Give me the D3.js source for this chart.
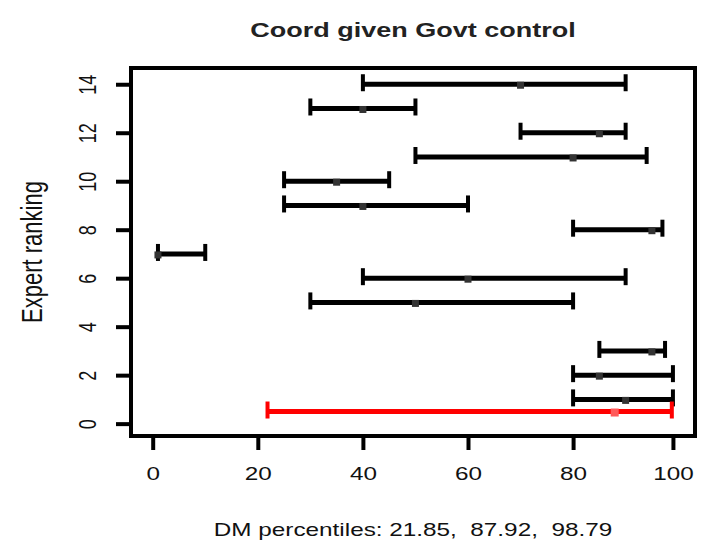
<!DOCTYPE html>
<html>
<head>
<meta charset="utf-8">
<script src="https://cdn.jsdelivr.net/npm/d3@7"></script>
<style>
  body { margin: 0; background: #fff; }
  svg { display: block; }
  text { font-family: "Liberation Sans", Arial, sans-serif; fill: #111; }
</style>
</head>
<body>
<script>
// Expert ranks with their low / median / high percentile estimates
const ranks   = [1, 2, 3, 5, 6, 7, 8, 9, 10, 11, 12, 13, 14]
const lows    = [80, 80, 85, 30, 40, 1, 80, 25, 25, 50, 70, 30, 40]
const medians = [90, 85, 95, 50, 60, 1, 95, 40, 35, 80, 85, 40, 70]
const highs   = [99, 99, 97.5, 80, 90, 10, 97, 60, 45, 94, 90, 50, 90]

// Decision maker (DM) row, drawn in red
const dmRank = 0.5
const dmValues = [21.85, 87.92, 98.79]

// Axis ticks
const xTicks = [0, 20, 40, 60, 80, 99]
const xTickLabels = ["0", "20", "40", "60", "80", "100"]
const yTicks = [0, 2, 4, 6, 8, 10, 12, 14]

const title = "Coord given Govt control"
const yTitle = "Expert ranking"

function main() {
    const width = 707, height = 548
    const sx = 1.35   // the picture is stretched sideways

    var svg = d3.select("body").append("svg")
        .attr("width", width)
        .attr("height", height)

    // Scales
    var x = d3.scaleLinear().domain([-4.13, 103.2]).range([131, 695])
    var y = d3.scaleLinear().domain([-0.51, 14.67]).range([436, 68])

    var rows = ranks.map(function (r, i) {
        return { rank: r, lo: lows[i], med: medians[i], hi: highs[i] }
    })

    // Interval bars
    var bar = svg.selectAll("g.row")
        .data(rows)
        .enter().append("g")
        .attr("class", "row")

    function drawBar(g, color, ptSize, ptColor) {
        g.append("line")
            .attr("x1", d => x(d.lo)).attr("x2", d => x(d.hi))
            .attr("y1", d => y(d.rank)).attr("y2", d => y(d.rank))
            .attr("stroke", color).attr("stroke-width", 5)
        g.selectAll("line.cap")
            .data(d => [{ v: d.lo, rank: d.rank }, { v: d.hi, rank: d.rank }])
            .enter().append("line")
            .attr("class", "cap")
            .attr("x1", d => x(d.v)).attr("x2", d => x(d.v))
            .attr("y1", d => y(d.rank) - 10).attr("y2", d => y(d.rank) + 7)
            .attr("stroke", color).attr("stroke-width", 4)
        g.append("rect")
            .attr("x", d => x(d.med) - ptSize / 2)
            .attr("y", d => y(d.rank) - ptSize / 2 + 1)
            .attr("width", ptSize).attr("height", ptSize)
            .attr("fill", ptColor)
    }
    drawBar(bar, "#000", 7, "#333")

    var dm = svg.append("g")
        .datum({ rank: dmRank, lo: dmValues[0], med: dmValues[1], hi: dmValues[2] })
    drawBar(dm, "#ff0000", 8, "#ff5a5a")

    // Box
    svg.append("rect")
        .attr("x", 131).attr("y", 68)
        .attr("width", 564).attr("height", 368)
        .attr("fill", "none").attr("stroke", "#000").attr("stroke-width", 4)

    // X axis
    var xAxis = d3.axisBottom(x)
        .tickValues(xTicks)
        .tickFormat((d, i) => xTickLabels[i])
        .tickSize(14).tickSizeOuter(0)
    var gx = svg.append("g")
        .attr("transform", "translate(0,436)")
        .call(xAxis)
    gx.select(".domain").remove()
    gx.selectAll(".tick line").attr("stroke", "#000").attr("stroke-width", 4)
    gx.selectAll(".tick text")
        .attr("y", 0).attr("dy", null)
        .attr("transform", `translate(0,44) scale(${sx},1)`)
        .attr("font-size", 18)
        .attr("fill", "#111")

    // Y axis
    var yAxis = d3.axisLeft(y)
        .tickValues(yTicks)
        .tickSize(15).tickSizeOuter(0)
    var gy = svg.append("g")
        .attr("transform", "translate(131,0)")
        .call(yAxis)
    gy.select(".domain").remove()
    gy.selectAll(".tick line").attr("stroke", "#000").attr("stroke-width", 4)
    gy.selectAll(".tick text")
        .attr("x", 0).attr("dy", "0.36em")
        .attr("text-anchor", "middle")
        .attr("transform", `translate(-44,0) scale(${sx},1) rotate(-90)`)
        .attr("font-size", 18)
        .attr("fill", "#111")

    // Titles
    svg.append("text")
        .attr("transform", `translate(413,37) scale(${sx},1)`)
        .attr("text-anchor", "middle")
        .attr("font-size", 20).attr("font-weight", "bold")
        .style("fill", "#222")
        .text(title)

    svg.append("text")
        .attr("transform", `translate(413,536) scale(${sx},1)`)
        .attr("text-anchor", "middle")
        .attr("font-size", 18)
        .style("white-space", "pre")
        .attr("xml:space", "preserve")
        .text("DM percentiles: " + dmValues.join(",  "))

    svg.append("text")
        .attr("transform", `translate(32,252) scale(${sx},1) rotate(-90)`)
        .attr("text-anchor", "middle")
        .attr("dy", "0.35em")
        .attr("font-size", 22)
        .text(yTitle)
}
main()
</script>
</body>
</html>
